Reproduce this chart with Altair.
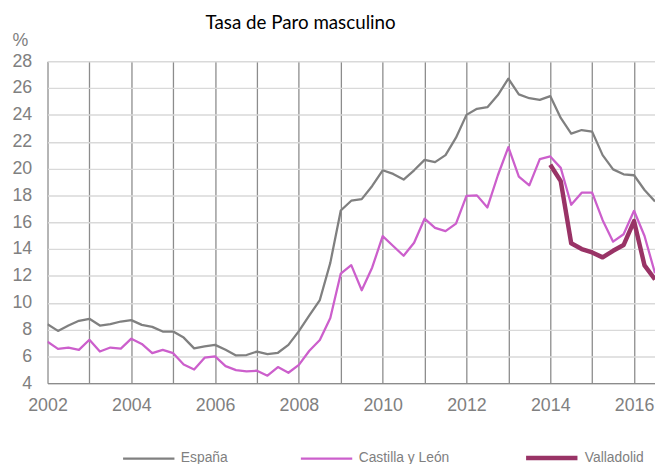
import altair as alt
import pandas as pd

start_year = 2002
series_names = ["España", "Castilla y León", "Valladolid"]
series_colors = ["#808080", "#CC5FCC", "#993366"]
series_widths = [2.3, 2.3, 4.5]

# quarterly values, first one at 2002 (Spain, Castilla y León), 2014 (Valladolid)
espana = [8.4, 7.9, 8.3, 8.65, 8.8, 8.3, 8.4, 8.6, 8.7, 8.35, 8.2, 7.85,
          7.85, 7.4, 6.6, 6.75, 6.86, 6.49, 6.07, 6.1, 6.36, 6.17, 6.27, 6.86,
          7.88, 9.05, 10.2, 12.97, 16.87, 17.6, 17.72, 18.7, 19.87, 19.6, 19.18, 19.87,
          20.65, 20.48, 21.0, 22.3, 24.0, 24.45, 24.57, 25.48, 26.7, 25.53, 25.24, 25.12,
          25.4, 23.77, 22.6, 22.87, 22.75, 21.0, 19.94, 19.57, 19.5, 18.4, 17.55]
castilla = [7.1, 6.56, 6.66, 6.49, 7.24, 6.36, 6.66, 6.58, 7.32, 6.93, 6.24, 6.49,
            6.24, 5.39, 5.02, 5.9, 6.0, 5.27, 4.98, 4.88, 4.93, 4.56, 5.2, 4.78,
            5.37, 6.42, 7.22, 8.86, 12.17, 12.8, 10.93, 12.63, 14.96, 14.23, 13.5, 14.47,
            16.26, 15.58, 15.33, 15.9, 17.96, 18.0, 17.1, 19.5, 21.6, 19.4, 18.75, 20.7,
            20.9, 20.05, 17.3, 18.2, 18.2, 16.15, 14.55, 15.1, 16.85, 14.97, 12.2]
valladolid_start = 2014
valladolid = [20.28, 19.06, 14.43, 14.0, 13.75, 13.38, 13.87, 14.3, 16.08, 12.78, 11.73]

year_ticks = list(range(2002, 2017))
y_ticks = list(range(4, 29, 2))

rows = []
for i, v in enumerate(espana):
    rows.append({"t": start_year + i / 4, "v": v, "serie": "España"})
for i, v in enumerate(castilla):
    rows.append({"t": start_year + i / 4, "v": v, "serie": "Castilla y León"})
for i, v in enumerate(valladolid):
    rows.append({"t": valladolid_start + i / 4, "v": v, "serie": "Valladolid"})
df = pd.DataFrame(rows)

label_font = "Liberation Sans, Arial, sans-serif"

chart = alt.Chart(df).mark_line(clip=True, strokeJoin="round").encode(
    x=alt.X("t:Q",
            scale=alt.Scale(domain=[2002, 2016.5], nice=False, zero=False),
            axis=alt.Axis(values=year_ticks, format="d",
                          labelExpr="datum.value % 2 == 0 ? datum.label : ''",
                          title=None, grid=True, gridColor="#8c8c8c", gridWidth=1.3,
                          ticks=False, domain=True, domainColor="#8c8c8c", domainWidth=1.3,
                          labelPadding=14, labelFontSize=18, labelColor="#808080",
                          labelFont=label_font, labelFlush=False, labelOverlap=False)),
    y=alt.Y("v:Q",
            scale=alt.Scale(domain=[4, 28], nice=False, zero=False),
            axis=alt.Axis(values=y_ticks, title="%", titleAngle=0, titleX=-36, titleY=-21,
                          titleAlign="left", titleBaseline="middle", titleFontSize=18,
                          titleFontWeight="normal", titleColor="#808080", titleFont=label_font,
                          grid=True, gridColor="#d9d9d9", gridWidth=1.5,
                          ticks=False, domain=False, labelPadding=16,
                          labelFontSize=18, labelColor="#808080", labelFont=label_font)),
    color=alt.Color("serie:O",
                    scale=alt.Scale(type="ordinal", domain=series_names, range=series_colors),
                    sort=series_names,
                    legend=alt.Legend(title=None)),
    strokeWidth=alt.StrokeWidth("serie:O",
                                scale=alt.Scale(type="ordinal", domain=series_names,
                                                range=series_widths),
                                sort=series_names,
                                legend=alt.Legend(title=None)),
).properties(
    width=615,
    height=326,
    autosize=alt.AutoSizeParams(type="none"),
    padding={"left": 40, "top": 51, "right": 0, "bottom": 86},
    title=alt.TitleParams("Tasa de Paro masculino", anchor="start", dx=196, dy=11,
                          font="Lato", fontSize=19, fontWeight="normal",
                          color="#000000", offset=10),
).configure_view(
    strokeWidth=0
).configure_legend(
    orient="none", legendX=75, legendY=373, direction="horizontal",
    symbolType="stroke", symbolSize=2704, labelFontSize=14, labelFont=label_font,
    labelColor="#808080", labelOffset=5, columnPadding=68, padding=0,
)

chart.save("out.html", embed_options={"renderer": "svg", "actions": False})
